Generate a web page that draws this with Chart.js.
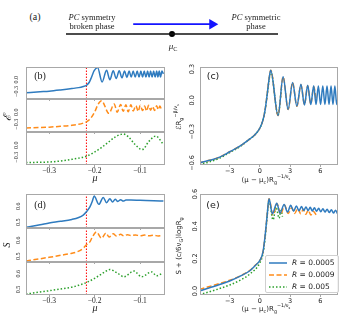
<!DOCTYPE html>
<html>
<head>
<meta charset="utf-8">
<script src="https://cdn.jsdelivr.net/npm/chart.js@4.4.1/dist/chart.umd.min.js"></script>
<style>
  html, body { margin: 0; padding: 0; background: #fff; }
  body { position: relative; width: 342px; height: 318px; overflow: hidden; font-family: "Liberation Serif", serif; color: #222; }
  canvas { position: absolute; }
  .lbl { position: absolute; white-space: nowrap; transform: translate(-50%, -50%); line-height: 1; z-index: 2; }
  .rot { transform: translate(-50%, -50%) rotate(-90deg); }
  .sans { font-family: "DejaVu Sans", sans-serif; }
  sub, sup { font-size: 70%; line-height: 0; }
  #legend { position: absolute; left: 265px; top: 255px; width: 72px; height: 36px; border: 1px solid #d0d0d0; border-radius: 2px; background: rgba(255,255,255,0.85); z-index: 3; font-family: "DejaVu Sans", sans-serif; font-size: 7.5px; }
  #legend div { position: absolute; left: 3px; height: 10px; line-height: 10px; white-space: nowrap; }
  #legend svg { vertical-align: middle; margin-right: 5px; }
</style>
</head>
<body>
<canvas id="chA"></canvas>
<canvas id="chB1"></canvas>
<canvas id="chB2"></canvas>
<canvas id="chB3"></canvas>
<canvas id="chC"></canvas>
<canvas id="chD1"></canvas>
<canvas id="chD2"></canvas>
<canvas id="chD3"></canvas>
<canvas id="chE"></canvas>

<div class="lbl" style="left:35px;top:17px;font-size:10px">(a)</div>
<div class="lbl" style="left:92px;top:21px;font-size:8.5px;line-height:8.5px;text-align:center"><i>PC</i> symmetry<br>broken phase</div>
<div class="lbl" style="left:256px;top:21px;font-size:8.5px;line-height:8.5px;text-align:center"><i>PC</i> symmetric<br>phase</div>
<div class="lbl" style="left:173px;top:46px;font-size:9px"><i>μ</i><sub>C</sub></div>

<div class="lbl" style="left:40px;top:76px;font-size:10px">(b)</div>
<div class="lbl sans" style="left:213px;top:76px;font-size:9.5px">(c)</div>
<div class="lbl" style="left:40px;top:205px;font-size:10px">(d)</div>
<div class="lbl sans" style="left:213px;top:205px;font-size:9.5px">(e)</div>

<div class="lbl rot" style="left:7px;top:117px;font-size:11px"><i>ℰ</i></div>
<div class="lbl rot" style="left:7px;top:245px;font-size:10px"><i>S</i></div>
<div class="lbl" style="left:95px;top:178px;font-size:10px"><i>μ</i></div>
<div class="lbl" style="left:95px;top:308px;font-size:10px"><i>μ</i></div>

<div class="lbl rot sans" style="left:179px;top:117px;font-size:7px">ℰR<sub>g</sub><sup>−β/ν<sub>s</sub></sup></div>
<div class="lbl rot sans" style="left:179px;top:246px;font-size:7px">S + (c/6ν<sub>G</sub>)logR<sub>g</sub></div>
<div class="lbl sans" style="left:266px;top:180px;font-size:7px">(μ − μ<sub>c</sub>)R<sub>g</sub><sup>−1/ν<sub>s</sub></sup></div>
<div class="lbl sans" style="left:266px;top:309px;font-size:7px">(μ − μ<sub>c</sub>)R<sub>g</sub><sup>−1/ν<sub>s</sub></sup></div>

<div id="legend"></div>

<script>
// ---- data ----
const seriesLabels = ['0.0005', '0.0009', '0.005'];
const seriesColors = ['#2f7bbf', '#ff8c1a', '#2ca02c'];
const muCritical = -0.218;

// (b) energy vs mu, three system sizes
const muB1 = [-0.351, -0.32, -0.30, -0.275, -0.25, -0.235, -0.225, -0.218, -0.212, -0.2066, -0.2009, -0.1934, -0.1835, -0.1736, -0.1663, -0.159, -0.1524, -0.1458, -0.1399, -0.134, -0.1289, -0.1238, -0.1194, -0.115, -0.1106, -0.1062, -0.1022, -0.0981, -0.0944, -0.0907, -0.087, -0.0833, -0.08, -0.0767, -0.0734, -0.07, -0.0667, -0.0634, -0.0606, -0.0577, -0.0548, -0.0518, -0.0485];
const energyB1 = [-0.33, -0.305, -0.29, -0.26, -0.225, -0.2, -0.17, -0.14, -0.07, 0.07, 0.23, 0.31, -0.055, 0.24, 0.0, 0.23, 0.03, 0.23, 0.05, 0.22, 0.06, 0.22, 0.07, 0.22, 0.07, 0.22, 0.07, 0.22, 0.07, 0.22, 0.07, 0.22, 0.07, 0.22, 0.07, 0.22, 0.07, 0.22, 0.07, 0.22, 0.07, 0.22, 0.15];
const muB2 = [-0.351, -0.32, -0.30, -0.275, -0.25, -0.235, -0.225, -0.218, -0.21, -0.2, -0.192, -0.1846, -0.1685, -0.1568, -0.1502, -0.1427, -0.137, -0.1311, -0.126, -0.12, -0.115, -0.109, -0.104, -0.0996, -0.0943, -0.0899, -0.0855, -0.0811, -0.0767, -0.0722, -0.0678, -0.0634, -0.0599, -0.0562, -0.0524];
const energyB2 = [-0.39, -0.38, -0.37, -0.35, -0.325, -0.3, -0.27, -0.24, -0.17, 0.0, 0.2, 0.28, -0.03, 0.2, 0.0, 0.19, 0.02, 0.18, 0.01, 0.18, 0.03, 0.16, 0.02, 0.17, 0.04, 0.15, 0.03, 0.17, 0.05, 0.14, 0.04, 0.16, 0.06, 0.15, 0.05];
const muB3 = [-0.351, -0.33, -0.30, -0.27, -0.25, -0.235, -0.218, -0.2, -0.185, -0.17, -0.155, -0.137, -0.125, -0.112, -0.0952, -0.08, -0.065, -0.05];
const energyB3 = [-0.43, -0.425, -0.415, -0.385, -0.35, -0.32, -0.275, -0.17, -0.06, 0.07, 0.2, 0.275, 0.2, 0.03, -0.11, 0.1, 0.225, 0.04];

// (d) entropy vs mu
const muD1 = [-0.351, -0.32, -0.30, -0.275, -0.25, -0.235, -0.225, -0.218, -0.21, -0.205, -0.201, -0.1905, -0.181, -0.1736, -0.1663, -0.1604, -0.1546, -0.1487, -0.1427, -0.137, -0.131, -0.12, -0.1, -0.07, -0.0485];
const entropyD1 = [0.47, 0.485, 0.496, 0.506, 0.518, 0.53, 0.545, 0.565, 0.597, 0.63, 0.662, 0.611, 0.654, 0.621, 0.646, 0.625, 0.642, 0.629, 0.64, 0.631, 0.6375, 0.638, 0.636, 0.634, 0.631];
const muD2 = [-0.351, -0.32, -0.30, -0.275, -0.25, -0.235, -0.225, -0.218, -0.21, -0.205, -0.196, -0.1846, -0.1751, -0.1678, -0.159, -0.1515, -0.1427, -0.1355, -0.1273, -0.12, -0.11, -0.1, -0.09, -0.08, -0.07, -0.06, -0.05];
const entropyD2 = [0.471, 0.485, 0.494, 0.506, 0.519, 0.532, 0.55, 0.571, 0.591, 0.619, 0.65, 0.612, 0.644, 0.619, 0.639, 0.625, 0.636, 0.627, 0.634, 0.628, 0.632, 0.627, 0.631, 0.627, 0.63, 0.626, 0.628];
const muD3 = [-0.351, -0.32, -0.30, -0.275, -0.25, -0.235, -0.218, -0.2, -0.185, -0.175, -0.1663, -0.15, -0.1355, -0.1134, -0.0965, -0.0745, -0.0634, -0.05];
const entropyD3 = [0.471, 0.484, 0.492, 0.503, 0.515, 0.527, 0.544, 0.571, 0.598, 0.617, 0.627, 0.605, 0.581, 0.617, 0.581, 0.612, 0.587, 0.606];

// (c) scaled energy vs scaled distance
const xC1 = [-6, -5, -4, -3, -2, -1, -0.5, 0, 0.3, 0.5, 0.7, 0.9, 1.07, 1.8, 2.3, 2.8, 3.24, 3.67, 4.07, 4.42, 4.74, 5.05, 5.34, 5.57, 5.8, 6.02, 6.24, 6.45, 6.66, 6.86, 7.06, 7.25, 7.44, 7.62, 7.78];
const yC1 = [-0.6, -0.575, -0.545, -0.493, -0.44, -0.37, -0.33, -0.265, -0.19, -0.1, 0.04, 0.2, 0.29, -0.146, 0.226, -0.088, 0.171, -0.056, 0.155, -0.045, 0.145, -0.04, 0.14, -0.04, 0.138, -0.04, 0.138, -0.04, 0.138, -0.04, 0.138, -0.04, 0.138, -0.04, 0.05];
const xC2 = [-6, -5, -4, -3, -2, -1, -0.5, 0, 0.3, 0.5, 0.7, 0.9, 1.07, 1.8, 2.3, 2.8, 3.24, 3.67, 4.07, 4.42, 4.74, 5.05, 5.34, 5.6];
const yC2 = [-0.6, -0.575, -0.545, -0.493, -0.44, -0.37, -0.33, -0.265, -0.19, -0.1, 0.04, 0.2, 0.29, -0.146, 0.226, -0.088, 0.171, -0.056, 0.15, -0.04, 0.14, -0.035, 0.13, 0.0];
const xC3 = [-6, -5, -4, -3, -2, -1, -0.5, 0, 0.3, 0.5, 0.7, 0.9, 1.07, 1.8, 2.15];
const yC3 = [-0.615, -0.59, -0.555, -0.5, -0.445, -0.37, -0.33, -0.265, -0.19, -0.1, 0.04, 0.19, 0.28, -0.14, 0.12];

// (e) corrected entropy vs scaled distance
const xE1 = [-6, -5, -4, -3, -2, -1, -0.5, 0, 0.3, 0.5, 0.7, 0.9, 1.24, 1.67, 2.0, 2.4, 2.74, 3.05, 3.35, 3.62, 3.88, 4.12, 4.35, 4.57, 4.78, 4.99, 5.2, 5.41, 5.62, 5.83, 6.04, 6.25, 6.46, 6.67, 6.88, 7.09, 7.3, 7.51, 7.7];
const yE1 = [0.0, 0.02, 0.04, 0.062, 0.09, 0.125, 0.155, 0.19, 0.24, 0.334, 0.457, 0.57, 0.478, 0.543, 0.482, 0.535, 0.488, 0.53, 0.494, 0.526, 0.496, 0.522, 0.498, 0.52, 0.497, 0.518, 0.495, 0.515, 0.493, 0.512, 0.49, 0.509, 0.488, 0.506, 0.485, 0.503, 0.482, 0.5, 0.478];
const xE2 = [-6, -5, -4, -3, -2, -1, -0.5, 0, 0.3, 0.5, 0.7, 0.9, 1.3, 1.7, 2.05, 2.45, 2.8, 3.15, 3.45, 3.75, 4.05, 4.3, 4.55, 4.8, 5.05, 5.3, 5.6];
const yE2 = [0.01, 0.028, 0.046, 0.066, 0.092, 0.127, 0.157, 0.19, 0.24, 0.334, 0.457, 0.57, 0.47, 0.54, 0.475, 0.53, 0.48, 0.515, 0.48, 0.51, 0.478, 0.505, 0.474, 0.5, 0.47, 0.492, 0.47];
const xE3 = [-6, -5, -4, -3, -2, -1, 0, 0.3, 0.5, 0.7, 0.9, 1.3, 1.6, 1.9, 2.1, 2.24];
const yE3 = [-0.022, -0.005, 0.015, 0.037, 0.065, 0.105, 0.175, 0.23, 0.32, 0.45, 0.56, 0.44, 0.52, 0.45, 0.5, 0.46];

// ticks
const muTicks = [-0.3, -0.2, -0.1];
const muTickLabels = ['−0.3', '−0.2', '−0.1'];
const energyTicks = [-0.3, 0.0];
const energyTickLabels = ['−0.3', '0.0'];
const entropyTicks = [0.5, 0.6];
const entropyTickLabels = ['0.5', '0.6'];
const scaledTicks = [-3, 0, 3, 6];
const scaledTickLabels = ['−3', '0', '3', '6'];
const scaledEnergyTicks = [-0.6, -0.3, 0.0, 0.3];
const scaledEnergyTickLabels = ['−0.6', '−0.3', '0.0', '0.3'];
const scaledEntropyTicks = [0.0, 0.2, 0.4, 0.6];
const scaledEntropyTickLabels = ['0.0', '0.2', '0.4', '0.6'];

// (a) schematic
const phaseLineX = [-1, 1];
const phaseLineY = [0, 0];
const arrowX = [-0.366, 0.38];
const arrowY = [0.7, 0.7];

// ---- drawing ----
const dashes = [[], [5, 2.5], [1.5, 2]];
const frameColor = '#a8a8a8';
const pts = (xs, ys) => xs.map((x, i) => ({ x: x, y: ys[i] }));

function curve(xs, ys, k) {
  return {
    data: pts(xs, ys), showLine: true, pointRadius: 0, borderWidth: 1.5,
    borderColor: seriesColors[k], borderDash: dashes[k],
    cubicInterpolationMode: 'monotone', fill: false
  };
}
function critLine(yr) {
  return {
    data: [{ x: muCritical, y: yr[0] }, { x: muCritical, y: yr[1] }],
    showLine: true, pointRadius: 0, borderWidth: 1, borderColor: '#ff0000', borderDash: [1.5, 1.5]
  };
}

const framePlugin = {
  id: 'frame',
  afterDatasetsDraw(chart, args, opts) {
    if (!opts.show) return;
    const a = chart.chartArea, ctx = chart.ctx;
    ctx.save();
    ctx.strokeStyle = frameColor;
    ctx.lineWidth = 1;
    ctx.strokeRect(Math.round(a.left) + 0.5, Math.round(a.top) + 0.5, Math.round(a.right - a.left) - 1, Math.round(a.bottom - a.top) - 1);
    ctx.restore();
  }
};
Chart.register(framePlugin);

function subplot(id, area, datasets, xr, yr, xt, xl, yt, yl, showX, xFont, yFont, yPad) {
  const padL = 26, padR = 4, padT = 8, padB = 14;
  const cv = document.getElementById(id);
  cv.width = area[2] + padL + padR;
  cv.height = area[3] + padT + padB;
  cv.style.left = (area[0] - padL) + 'px';
  cv.style.top = (area[1] - padT) + 'px';
  return new Chart(cv, {
    type: 'scatter',
    data: { datasets: datasets },
    options: {
      responsive: false, animation: false, devicePixelRatio: 1,
      layout: { padding: { left: 0, right: padR, top: padT, bottom: 0 } },
      plugins: { legend: { display: false }, tooltip: { enabled: false }, frame: { show: true } },
      scales: {
        x: {
          type: 'linear', min: xr[0], max: xr[1],
          afterFit: s => { s.height = padB; },
          afterBuildTicks: s => { s.ticks = xt.map(v => ({ value: v })); },
          grid: { drawOnChartArea: false, drawTicks: true, tickLength: 2, color: frameColor },
          border: { display: false },
          ticks: { display: showX, autoSkip: false, maxRotation: 0, padding: 0, color: '#222', font: xFont, callback: (v, i) => xl[i] }
        },
        y: {
          type: 'linear', min: yr[0], max: yr[1],
          afterFit: s => { s.width = padL; },
          afterBuildTicks: s => { s.ticks = yt.map(v => ({ value: v })); },
          grid: { drawOnChartArea: false, drawTicks: false },
          border: { display: false },
          ticks: { autoSkip: false, minRotation: 90, maxRotation: 90, crossAlign: 'center', padding: yPad, color: '#222', font: yFont, callback: (v, i) => yl[i] }
        }
      }
    }
  });
}

const serifX = { family: 'Liberation Serif', size: 7.5 };
const serifY = { family: 'Liberation Serif', size: 6 };
const sans = { family: 'DejaVu Sans', size: 6.5 };
const muRange = [-0.351, -0.045];
const scaledRange = [-5.95, 7.75];
const bRange = [-0.49, 0.325];
const dRange = [0.465, 0.675];
const cRange = [-0.62, 0.32];
const eRange = [-0.025, 0.6];

// (b)
subplot('chB1', [26, 67, 139, 32], [curve(muB1, energyB1, 0), critLine(bRange)], muRange, bRange, muTicks, muTickLabels, energyTicks, energyTickLabels, false, serifX, serifY, 4);
subplot('chB2', [26, 99, 139, 33], [curve(muB2, energyB2, 1), critLine(bRange)], muRange, bRange, muTicks, muTickLabels, energyTicks, energyTickLabels, false, serifX, serifY, 4);
subplot('chB3', [26, 132, 139, 33], [curve(muB3, energyB3, 2), critLine(bRange)], muRange, bRange, muTicks, muTickLabels, energyTicks, energyTickLabels, true, serifX, serifY, 4);
// (d)
subplot('chD1', [26, 194, 139, 34], [curve(muD1, entropyD1, 0), critLine(dRange)], muRange, dRange, muTicks, muTickLabels, entropyTicks, entropyTickLabels, false, serifX, serifY, 4);
subplot('chD2', [26, 228, 139, 34], [curve(muD2, entropyD2, 1), critLine(dRange)], muRange, dRange, muTicks, muTickLabels, entropyTicks, entropyTickLabels, false, serifX, serifY, 4);
subplot('chD3', [26, 262, 139, 33], [curve(muD3, entropyD3, 2), critLine(dRange)], muRange, dRange, muTicks, muTickLabels, entropyTicks, entropyTickLabels, true, serifX, serifY, 4);
// (c)
subplot('chC', [200, 67, 138, 98], [curve(xC1, yC1, 0), curve(xC2, yC2, 1), curve(xC3, yC3, 2)], scaledRange, cRange, scaledTicks, scaledTickLabels, scaledEnergyTicks, scaledEnergyTickLabels, true, sans, sans, 0);
// (e)
subplot('chE', [200, 194, 138, 101], [curve(xE1, yE1, 0), curve(xE2, yE2, 1), curve(xE3, yE3, 2)], scaledRange, eRange, scaledTicks, scaledTickLabels, scaledEntropyTicks, scaledEntropyTickLabels, true, sans, sans, 0);

// (a) phase diagram
(function () {
  const cv = document.getElementById('chA');
  cv.width = 224; cv.height = 40;
  cv.style.left = '60px'; cv.style.top = '14px';
  new Chart(cv, {
    type: 'scatter',
    data: {
      datasets: [
        { data: pts(phaseLineX, phaseLineY), showLine: true, pointRadius: 0, borderColor: '#111', borderWidth: 1.5, clip: false },
        { data: pts(arrowX, arrowY), showLine: true, borderColor: '#1414ff', borderWidth: 1.8, clip: false,
          pointRadius: [0, 6], pointStyle: 'triangle', pointRotation: [0, 90], pointBackgroundColor: '#1414ff', pointBorderWidth: 0 },
        { data: [{ x: 0, y: 0 }], pointRadius: 3, pointBackgroundColor: '#000', pointBorderWidth: 0, clip: false }
      ]
    },
    options: {
      responsive: false, animation: false, devicePixelRatio: 1,
      layout: { padding: 0 },
      plugins: { legend: { display: false }, tooltip: { enabled: false }, frame: { show: false } },
      scales: { x: { display: false, min: -1, max: 1 }, y: { display: false, min: -1, max: 1 } }
    }
  });
})();

// legend for (e)
(function () {
  const lg = document.getElementById('legend');
  seriesLabels.forEach((s, k) => {
    const row = document.createElement('div');
    row.style.top = (2 + k * 12) + 'px';
    const dash = dashes[k].length ? dashes[k].join(',') : 'none';
    row.innerHTML = '<svg width="18" height="6"><line x1="0" y1="3" x2="18" y2="3" stroke="' + seriesColors[k] +
      '" stroke-width="1.5" stroke-dasharray="' + dash + '"/></svg><i>R</i> = ' + s;
    lg.appendChild(row);
  });
})();
</script>
</body>
</html>
